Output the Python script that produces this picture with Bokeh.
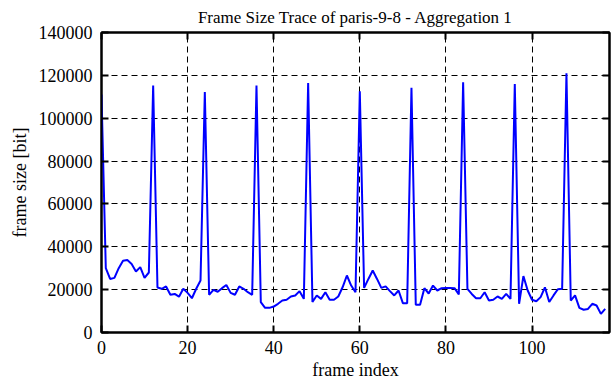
from bokeh.plotting import figure
from bokeh.models import LinearAxis, FixedTicker, Range1d
from bokeh.embed import file_html
from bokeh.resources import INLINE

frame_size = [
    111000, 30000, 25000, 25500, 30000, 33500, 33800, 32000, 28500, 30500,
    25500, 28000, 115300, 21000, 20400, 21500, 17600, 18000, 16700, 20400,
    18500, 16000, 20400, 24300, 112200, 17600, 19900, 19000, 20700, 22200,
    18500, 17600, 21500, 20400, 18800, 17600, 115300, 14200, 11500, 11500,
    12100, 13400, 14900, 15300, 16800, 17300, 19300, 15700, 116400, 14200,
    17300, 15700, 18800, 15300, 15300, 16800, 21100, 26600, 21900, 18800,
    112600, 20800, 25000, 28900, 25000, 20800, 21500, 19300, 17300, 19600,
    13700, 13700, 114200, 13000, 13000, 20700, 18200, 21900, 19600, 20700,
    20800, 20800, 20700, 17800, 116800, 20400, 18000, 16000, 16000, 18800,
    14900, 15300, 16800, 15700, 18000, 15700, 116000, 13400, 26300, 19600,
    15300, 14600, 16500, 21100, 14200, 17300, 20200, 20400, 121000, 14900,
    17300, 11500, 10600, 11000, 13400, 12600, 8700, 11000,
]
frame_index = list(range(len(frame_size)))
x_ticks = [0, 20, 40, 60, 80, 100]
y_ticks = [0, 20000, 40000, 60000, 80000, 100000, 120000, 140000]

FONT = "Liberation Serif"

p = figure(width=612, height=382, output_backend="svg", toolbar_location=None,
           x_range=Range1d(0, 118), y_range=Range1d(0, 140000),
           min_border_left=101, min_border_right=3, min_border_bottom=50,
           min_border_top=32)

p.title.text = "Frame Size Trace of paris-9-8 - Aggregation 1"
p.title.align = "center"
p.title.text_font = FONT
p.title.text_font_size = "17px"
p.title.text_font_style = "normal"
p.title.text_color = "black"
p.title.standoff = 11

p.line(frame_index, frame_size, line_color="#0000ff", line_width=2)

p.xaxis.ticker = FixedTicker(ticks=x_ticks)
p.yaxis.ticker = FixedTicker(ticks=y_ticks)
p.axis.major_tick_in = 7
p.axis.major_tick_out = 0
p.axis.minor_tick_in = 0
p.axis.minor_tick_out = 0
p.axis.axis_line_width = 2
p.axis.major_tick_line_width = 2
p.axis.major_label_text_font = FONT
p.axis.major_label_text_font_style = "normal"
p.axis.major_label_text_font_size = "18px"
p.axis.major_label_text_color = "black"
p.axis.axis_label_text_font = FONT
p.axis.axis_label_text_font_size = "18px"
p.axis.axis_label_text_font_style = "normal"
p.axis.axis_label_text_color = "black"

p.xaxis.axis_label = "frame index"
p.yaxis.axis_label = "frame size [bit]"
p.xaxis.major_label_standoff = 8
p.yaxis.major_label_standoff = 9
p.xaxis.axis_label_standoff = 3
p.yaxis.axis_label_standoff = 6
p.yaxis.formatter.use_scientific = False


def mirror_axis(ticks):
    return LinearAxis(ticker=FixedTicker(ticks=ticks),
                      major_label_overrides={t: "" for t in ticks},
                      major_tick_in=7, major_tick_out=0, minor_tick_in=0,
                      minor_tick_out=0, axis_line_width=2,
                      major_tick_line_width=2, major_label_standoff=0)


p.add_layout(mirror_axis(x_ticks), "above")
p.add_layout(mirror_axis(y_ticks), "right")

p.xgrid.ticker = FixedTicker(ticks=x_ticks[1:])
p.ygrid.ticker = FixedTicker(ticks=y_ticks[1:-1])
for g in (p.xgrid[0], p.ygrid[0]):
    g.grid_line_color = "black"
    g.grid_line_dash = "6 4"
    g.grid_line_width = 1
    g.grid_line_alpha = 1.0

p.outline_line_color = "black"
p.outline_line_width = 2

open("out.html", "w").write(file_html(p, INLINE))
